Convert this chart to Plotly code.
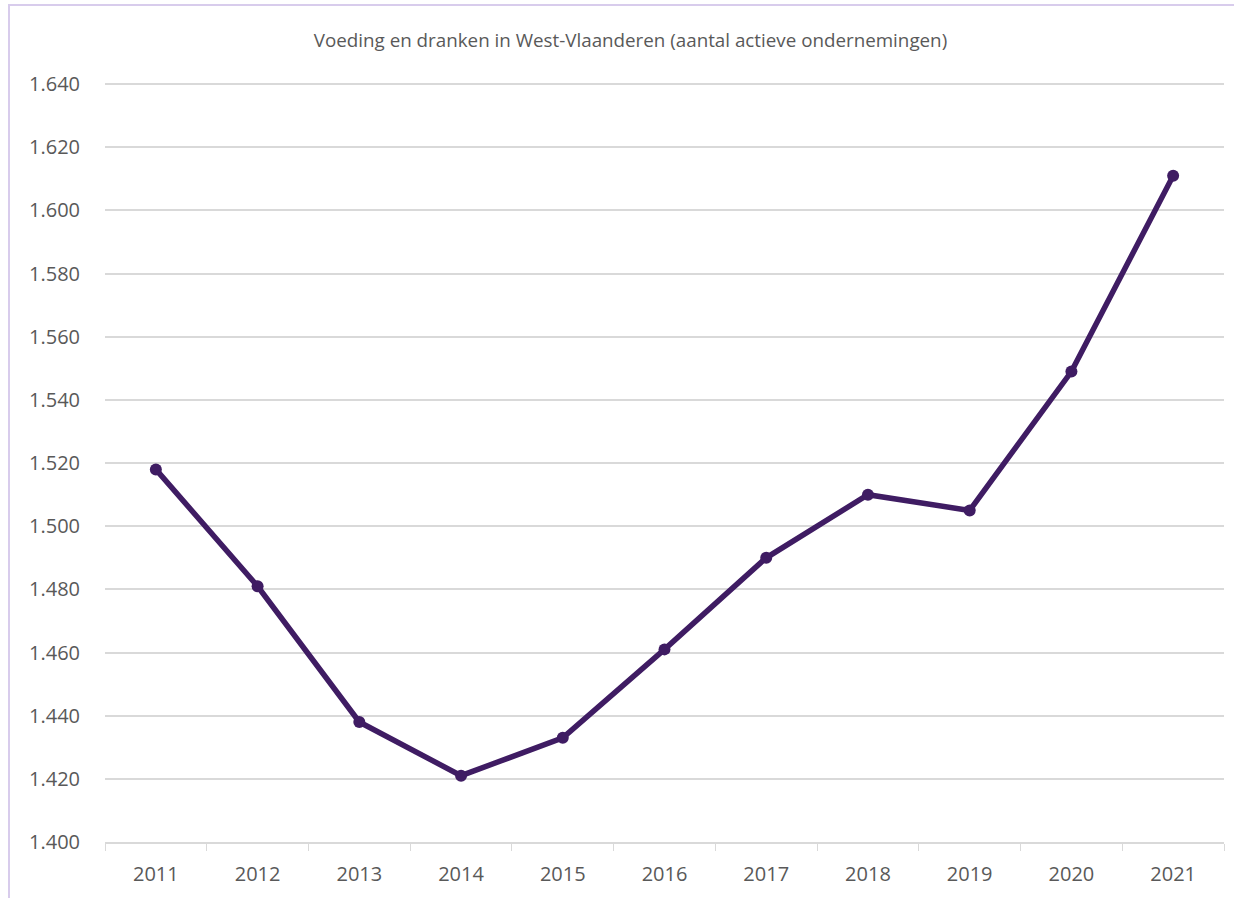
import plotly.graph_objects as go

years = ["2011", "2012", "2013", "2014", "2015", "2016", "2017", "2018", "2019", "2020", "2021"]
values = [1518, 1481, 1438, 1421, 1433, 1461, 1490, 1510, 1505, 1549, 1611]
title_text = "Voeding en dranken in West-Vlaanderen (aantal actieve ondernemingen)"

W, H = 1234, 898
L, R, T, B = 105, 10, 81, 56
pw, ph = W - L - R, H - T - B

def px_x(x):
    return (x - L) / pw

def px_y(y):
    return (H - B - y) / ph

fig = go.Figure()
fig.add_trace(go.Scatter(
    x=years, y=values, mode="lines+markers",
    line=dict(color="#3F1C63", width=5.5),
    marker=dict(color="#3F1C63", size=12),
    hoverinfo="x+y", showlegend=False, cliponaxis=False,
))

fig.update_layout(
    width=W, height=H,
    margin=dict(l=L, r=R, t=T, b=B, autoexpand=False),
    paper_bgcolor="white", plot_bgcolor="white",
    separators=",.",
    font=dict(family="Open Sans, sans-serif", color="#595959", size=20),
    title=dict(text=title_text, x=630.5 / W, xanchor="center", y=1 - 40 / H, yanchor="middle",
               font=dict(size=18.8, color="#595959")),
    xaxis=dict(
        type="category", range=[-0.5, len(years) - 0.5],
        tickson="boundaries", ticks="outside", ticklen=7,
        tickcolor="#D9D9D9", showline=True, linecolor="#D9D9D9", linewidth=1.5,
        showgrid=False, tickfont=dict(size=20, color="#595959"), ticklabelstandoff=13,
        automargin=False,
    ),
    yaxis=dict(
        range=[1400, 1641], dtick=20, tick0=1400, tickformat=",",
        showgrid=True, gridcolor="#D9D9D9", gridwidth=1.5, zeroline=False,
        ticks="", tickfont=dict(size=20, color="#595959"), ticklabelstandoff=24,
        automargin=False,
    ),
    shapes=[dict(
        type="rect", xref="paper", yref="paper",
        x0=px_x(9), x1=px_x(1240), y0=px_y(905), y1=px_y(5),
        line=dict(color="#D8CCEC", width=2), fillcolor="rgba(0,0,0,0)", layer="below",
    )],
)

fig.write_html("out.html", config={"displayModeBar": False},
               post_script="document.body.style.margin='0';document.body.style.overflow='hidden';")
